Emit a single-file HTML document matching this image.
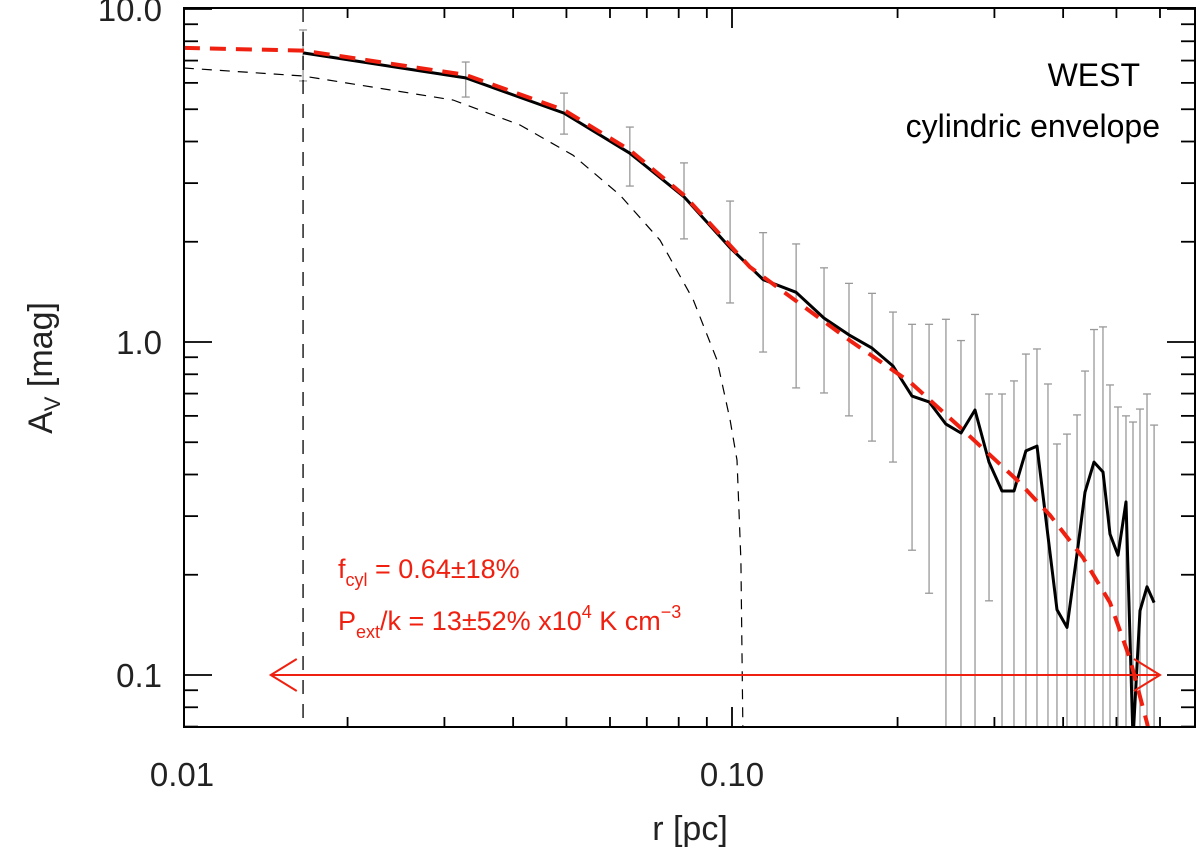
<!DOCTYPE html>
<html><head><meta charset="utf-8"><style>
html,body{margin:0;padding:0;background:#fff;width:1200px;height:853px;overflow:hidden}
svg{display:block;position:absolute;left:0;top:0}
svg text{font-family:"Liberation Sans",sans-serif}
</style></head><body>
<svg id="chart" width="1200" height="853" viewBox="0 0 1200 853" xmlns="http://www.w3.org/2000/svg">
<g id="plot"></g>
<text x="690" y="840" font-size="34" text-anchor="middle" fill="#222">r [pc]</text>
<text transform="translate(52,368) rotate(-90)" font-size="34" text-anchor="middle" fill="#222">A<tspan font-size="22" dy="8">V</tspan><tspan dy="-8"> [mag]</tspan></text>
<text x="1140" y="86" font-size="32" text-anchor="end" fill="#000">WEST</text>
<text x="1160" y="137" font-size="32" text-anchor="end" fill="#000">cylindric envelope</text>
<text x="338" y="578" font-size="27" fill="#f02010">f<tspan font-size="18" dy="8">cyl</tspan><tspan dy="-8"> = 0.64±18%</tspan></text>
<text x="338" y="630" font-size="27" fill="#f02010">P<tspan font-size="18" dy="8">ext</tspan><tspan dy="-8">/k = 13±52% x10</tspan><tspan font-size="18" dy="-12">4</tspan><tspan dy="12"> K cm</tspan><tspan font-size="18" dy="-12">−3</tspan></text>
</svg>
<script>
const radius=[0.0166,0.0328,0.0495,0.0652,0.0818,0.0992,0.1139,0.1308,0.1470,0.1632,0.1797,0.1962,0.2125,0.2282,0.2449,0.2608,0.2766,0.2933,0.3097,0.3256,0.3423,0.3585,0.3754,0.3898,0.4065,0.4240,0.4384,0.4552,0.4726,0.4867,0.5032,0.5204,0.5359,0.5518,0.5683,0.5854];
const avObs=[7.38,6.21,4.87,3.69,2.73,1.92,1.54,1.41,1.18,1.05,0.959,0.847,0.688,0.661,0.567,0.533,0.625,0.436,0.357,0.357,0.471,0.487,0.261,0.157,0.139,0.232,0.354,0.436,0.407,0.265,0.229,0.331,0.064,0.156,0.184,0.165];
const errHigh=[8.65,6.93,5.59,4.42,3.45,2.65,2.13,1.97,1.67,1.50,1.40,1.23,1.13,1.13,1.17,1.01,1.21,0.698,0.698,0.764,0.920,0.953,0.748,0.494,0.529,0.604,0.818,1.09,1.11,0.743,0.638,0.600,0.575,0.629,0.698,0.563];
const errLow=[6.08,5.44,4.21,2.94,2.04,1.31,0.933,0.728,0.703,0.600,0.504,0.436,0.237,0.176,0.01,0.01,0.01,0.167,0.01,0.01,0.01,0.01,0.01,0.01,0.01,0.01,0.01,0.01,0.01,0.01,0.01,0.01,0.01,0.01,0.01,0.01];
const fitR=[0.01008,0.0166,0.0328,0.0495,0.0652,0.0818,0.1078,0.1639,0.2107,0.2630,0.3298,0.3786,0.4347,0.4867,0.5291,0.5683,0.580];
const fitAv=[7.64,7.50,6.34,4.97,3.77,2.76,1.68,1.01,0.758,0.544,0.385,0.302,0.225,0.165,0.112,0.0718,0.0616];
const coreR=[0.01008,0.0166,0.0311,0.0412,0.0514,0.0626,0.0740,0.0850,0.0939,0.0992,0.1021,0.1038,0.1047];
const coreAv=[6.65,6.29,5.33,4.48,3.64,2.76,2.02,1.34,0.883,0.583,0.442,0.221,0.064];
const xTickVals=[0.01,0.1];
const xTickLabels=["0.01","0.10"];
const yTickVals=[0.1,1,10];
const yTickLabels=["0.1","1.0","10.0"];
const rCut=0.0166;
const arrowRange=[0.0145,0.6];
const arrowAv=0.1;

const L=184,R=1195,T=8,B=727;
const X=v=>182+(Math.log10(v)+2)*550;
const Y=v=>342-Math.log10(v)*333;
const NS="http://www.w3.org/2000/svg";
const g=document.getElementById('plot');
function mk(tag,attrs,parent){const e=document.createElementNS(NS,tag);for(const k in attrs)e.setAttribute(k,attrs[k]);(parent||g).appendChild(e);return e;}

const defs=mk('defs',{});
const cp=mk('clipPath',{id:'clip'},defs);
mk('rect',{x:L,y:T,width:R-L,height:B-T},cp);
const data=mk('g',{'clip-path':'url(#clip)'});



radius.forEach((r,i)=>{
  const x=X(r);
  const eb=mk('g',{stroke:'#999','stroke-width':1.3},data);
  
  
  mk('line',{x1:x,x2:x,y1:Y(errHigh[i]),y2:Math.min(B,Y(errLow[i]))},eb);
  mk('line',{x1:x-4,x2:x+4,y1:Y(errHigh[i]),y2:Y(errHigh[i])},eb);
  if(errLow[i]>0.07) mk('line',{x1:x-4,x2:x+4,y1:Y(errLow[i]),y2:Y(errLow[i])},eb);
});

const vc=mk('line',{x1:X(rCut),x2:X(rCut),y1:T,y2:B,stroke:'#000','stroke-width':1.3,'stroke-dasharray':'14,10'},data);



const pts=(xs,ys)=>xs.map((r,i)=>X(r).toFixed(1)+','+Y(ys[i]).toFixed(1)).join(' ');
const core=mk('polyline',{points:pts(coreR,coreAv),fill:'none',stroke:'#000','stroke-width':1.2,'stroke-dasharray':'10,8','stroke-linejoin':'round'},data);


const obs=mk('polyline',{points:pts(radius,avObs),fill:'none',stroke:'#000','stroke-width':3,'stroke-linejoin':'round'},data);


const fit=mk('polyline',{points:pts(fitR,fitAv),fill:'none',stroke:'#f02010','stroke-width':4,'stroke-dasharray':'16,10'},data);



const ag=mk('g',{stroke:'#f02010','stroke-width':2,fill:'none'});


const ax1=X(arrowRange[0]),ax2=X(arrowRange[1]),ay=Y(arrowAv);
mk('line',{x1:ax1,x2:ax2,y1:ay,y2:ay},ag);
mk('polyline',{points:`${ax1+26},${ay-16} ${ax1},${ay} ${ax1+26},${ay+16}`},ag);
mk('polyline',{points:`${ax2-26},${ay-16} ${ax2},${ay} ${ax2-26},${ay+16}`},ag);

const fr=mk('rect',{x:L,y:T,width:R-L,height:B-T,fill:'none',stroke:'#000','stroke-width':2});



const tk=mk('g',{stroke:'#000','stroke-width':1.8});


for(let d=-2;d<=-1;d++)for(let m=1;m<10;m++){const v=m*Math.pow(10,d);const x=X(v);if(x<L||x>R)continue;const len=m===1?20:10;
  mk('line',{x1:x,x2:x,y1:B,y2:B-len},tk);mk('line',{x1:x,x2:x,y1:T,y2:T+len},tk);}
for(let d=-2;d<=1;d++)for(let m=1;m<10;m++){const v=m*Math.pow(10,d);const y=Y(v);if(y<T||y>B)continue;const len=m===1?28:14;
  mk('line',{x1:L,x2:L+len,y1:y,y2:y},tk);mk('line',{x1:R,x2:R-len,y1:y,y2:y},tk);}

xTickVals.forEach((v,i)=>{const t=mk('text',{x:X(v),y:786,'font-size':33,'text-anchor':'middle',fill:'#222'});t.textContent=xTickLabels[i];
  });
yTickVals.forEach((v,i)=>{const t=mk('text',{x:162,y:Y(v)+12,'font-size':33,'text-anchor':'end',fill:'#222'});t.textContent=yTickLabels[i];
  });
</script>
</body></html>
